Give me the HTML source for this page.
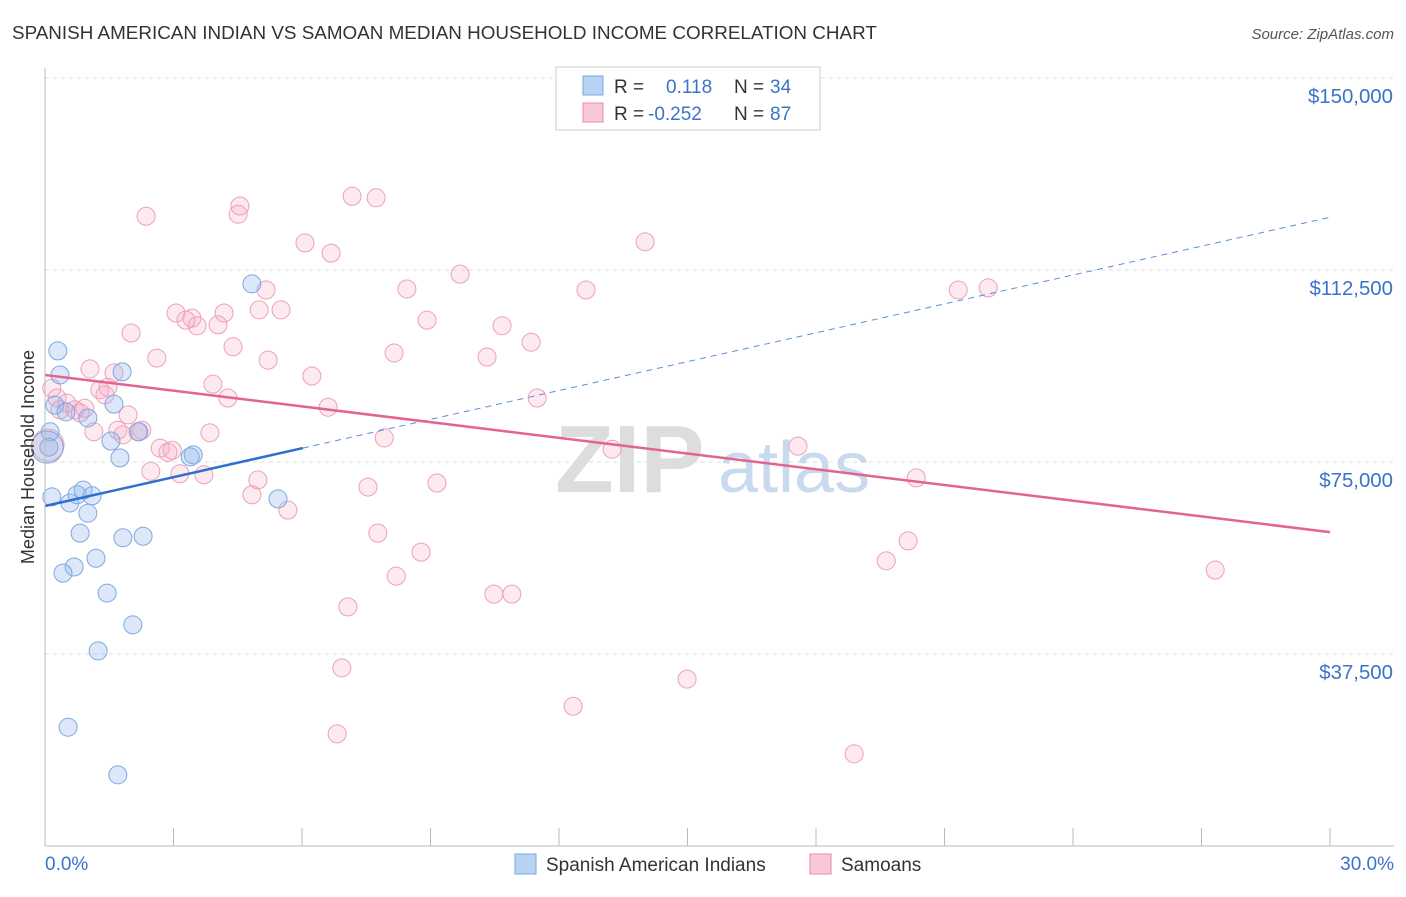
<!DOCTYPE html>
<html><head><meta charset="utf-8"><style>
body{margin:0;background:#fff;font-family:"Liberation Sans",sans-serif;}
svg text{font-family:"Liberation Sans",sans-serif;}
</style></head><body>
<svg id="chart" width="1406" height="892" xmlns="http://www.w3.org/2000/svg">
<text x="12" y="39" font-size="18.85" fill="#333">SPANISH AMERICAN INDIAN VS SAMOAN MEDIAN HOUSEHOLD INCOME CORRELATION CHART</text>
<text x="1394" y="39" font-size="15" fill="#555" font-style="italic" text-anchor="end">Source: ZipAtlas.com</text>
<g id="grid"></g>
<g id="wm">
<text x="555" y="492" font-size="96" fill="#ddd" font-family="Liberation Serif" font-weight="bold">ZIP</text>
<text x="718" y="492" font-size="72" fill="#c9d9ee">atlas</text>
</g>
<g id="pts"></g>
<g id="axes"></g>
<text x="34" y="457" font-size="18" fill="#333" text-anchor="middle" transform="rotate(-90 34 457)">Median Household Income</text>
<g>
<rect x="556" y="67" width="264" height="63" fill="#fff" stroke="#ccc"/>
<rect x="583" y="76" width="20" height="19" fill="#b8d2f4" stroke="#7aa6e0"/>
<rect x="583" y="103" width="20" height="19" fill="#f9c8d8" stroke="#e88aa8"/>
<text x="614" y="93" font-size="19" fill="#333">R =</text>
<text x="666" y="93" font-size="19" fill="#3b73c9">0.118</text>
<text x="734" y="93" font-size="19" fill="#333">N =</text>
<text x="770" y="93" font-size="19" fill="#3b73c9">34</text>
<text x="614" y="120" font-size="19" fill="#333">R =</text>
<text x="648" y="120" font-size="19" fill="#3b73c9">-0.252</text>
<text x="734" y="120" font-size="19" fill="#333">N =</text>
<text x="770" y="120" font-size="19" fill="#3b73c9">87</text>
</g>
<g>
<rect x="515" y="854" width="21" height="20" fill="#b8d2f4" stroke="#7aa6e0"/>
<text x="546" y="871" font-size="19" fill="#333">Spanish American Indians</text>
<rect x="810" y="854" width="21" height="20" fill="#f9c8d8" stroke="#e88aa8"/>
<text x="841" y="871" font-size="19" fill="#333">Samoans</text>
</g>
</svg>
<script>
const blueX=[0.30,0.35,0.23,0.49,1.00,1.61,1.80,0.12,0.09,1.54,1.75,2.19,3.46,4.83,5.44,0.16,0.58,0.75,0.89,1.10,1.00,0.82,1.19,1.82,2.29,0.68,0.42,1.45,2.05,1.24,0.54,1.70,0.05,3.39];
const blueY=[96.7,92.0,86.1,84.8,83.6,86.3,92.6,80.9,77.9,79.1,75.8,80.9,76.4,109.8,67.8,68.2,67.0,68.6,69.5,68.4,65.0,61.1,56.2,60.2,60.5,54.5,53.3,49.4,43.2,38.1,23.2,13.9,77.9,76.0];
const pinkX=[2.36,4.55,4.51,7.17,7.73,6.07,6.68,14.01,5.16,9.69,8.45,12.63,21.32,22.02,3.06,3.43,3.55,4.04,4.18,5.00,5.51,3.29,2.01,4.39,2.61,5.21,8.15,8.92,10.67,11.35,10.32,1.05,1.61,6.23,3.92,1.28,1.47,4.27,11.49,6.61,0.28,0.51,0.70,0.93,0.82,1.14,1.94,1.70,2.26,2.17,3.85,2.69,2.87,2.97,7.92,13.24,17.58,2.47,3.15,3.71,4.97,4.83,5.67,7.54,9.15,20.34,7.77,8.78,20.15,19.64,8.20,27.32,7.07,10.48,10.90,6.93,14.99,12.33,6.82,18.89,0.07,0.16,0.35,1.82,1.40];
const pinkY=[123.0,125.0,123.4,126.9,126.6,117.8,115.8,118.0,108.6,111.7,108.8,108.6,108.6,109.0,104.1,103.1,101.6,101.8,104.1,104.7,104.7,102.7,100.2,97.5,95.3,94.9,96.3,102.7,101.6,98.4,95.5,93.2,92.4,91.8,90.2,89.1,89.6,87.5,87.5,85.7,87.5,86.5,85.2,85.5,84.6,80.9,84.2,81.2,81.2,80.9,80.7,77.7,76.9,77.3,79.7,77.5,78.1,73.2,72.7,72.5,71.5,68.6,65.6,70.1,70.9,71.9,61.1,57.4,59.6,55.7,52.7,53.9,46.7,49.2,49.2,34.8,32.6,27.3,21.9,18.0,78.3,89.4,85.2,80.3,88.1];
const yTicks=[37.5,75,112.5,150];
const yTickLabels=["$37,500","$75,000","$112,500","$150,000"];
const blueTrend=[66.4,122.8];
const blueSolidEnd=6.02;
const pinkTrend=[92.0,61.3];
const NS="http://www.w3.org/2000/svg";
const X=v=>45+v*(1285/30);
const Y=v=>846-v*(192/37.5);
function mk(tag,attrs,parent){const e=document.createElementNS(NS,tag);for(const k in attrs)e.setAttribute(k,attrs[k]);parent.appendChild(e);return e;}
const grid=document.getElementById('grid'),axes=document.getElementById('axes'),pts=document.getElementById('pts');
yTicks.forEach((t,i)=>{
  const l=mk('line',{x1:45,x2:1394,y1:Y(t),y2:Y(t),stroke:'#ddd','stroke-dasharray':'4,4'},grid);
  
  
  const tx=mk('text',{x:1393,y:Y(t)+25,'font-size':20.4,fill:'#3b73c9','text-anchor':'end'},axes);
  tx.textContent=yTickLabels[i];
  
  
});
mk('line',{x1:45,x2:45,y1:68,y2:846,stroke:'#bbb'},axes);
mk('line',{x1:45,x2:1394,y1:846,y2:846,stroke:'#bbb'},axes);
for(let i=0;i<=10;i++){mk('line',{x1:X(i*3),x2:X(i*3),y1:828,y2:846,stroke:'#bbb'},axes);}
const xl0=mk('text',{x:45,y:870,'font-size':19,fill:'#3b73c9'},axes);xl0.textContent='0.0%';


const xl1=mk('text',{x:1394,y:870,'font-size':19,fill:'#3b73c9','text-anchor':'end'},axes);xl1.textContent='30.0%';


function dots(xs,ys,fill,stroke,name,bigIdx){
  xs.forEach((x,i)=>{
    const c=mk('circle',{cx:X(x),cy:Y(ys[i]),r:(i===bigIdx)?16:9,fill:fill,stroke:stroke,'stroke-width':1},pts);
    
    
  });
}
dots(pinkX,pinkY,'rgba(246,170,195,0.25)','#eda0b8','samoan-point',80);
dots(blueX,blueY,'rgba(140,180,235,0.3)','#7ea8e0','spanish-point',32);
const slope=(blueTrend[1]-blueTrend[0])/30;
const bs=mk('line',{x1:X(0),y1:Y(blueTrend[0]),x2:X(blueSolidEnd),y2:Y(blueTrend[0]+slope*blueSolidEnd),stroke:'#2f6fd0','stroke-width':2.5},pts);


const bd=mk('line',{x1:X(blueSolidEnd),y1:Y(blueTrend[0]+slope*blueSolidEnd),x2:X(30),y2:Y(blueTrend[1]),stroke:'#5a8fd8','stroke-width':1,'stroke-dasharray':'6,5'},pts);


const pl=mk('line',{x1:X(0),y1:Y(pinkTrend[0]),x2:X(30),y2:Y(pinkTrend[1]),stroke:'#e5648f','stroke-width':2.5},pts);


</script>
</body></html>
